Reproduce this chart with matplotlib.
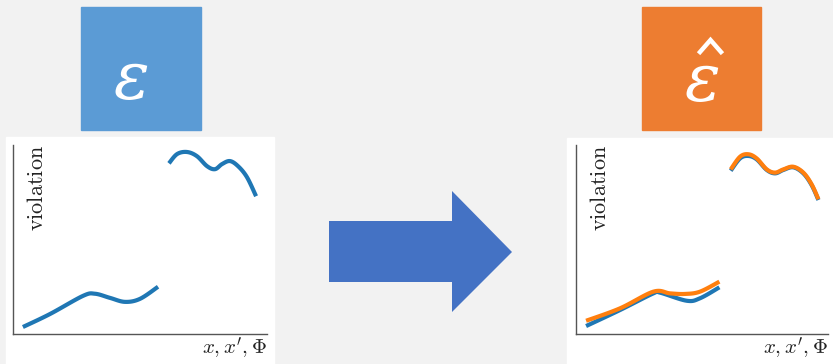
import matplotlib
matplotlib.use("Agg")
import matplotlib.pyplot as plt
import numpy as np
from matplotlib.patches import Rectangle, Polygon

plt.rcParams["mathtext.fontset"] = "cm"

W, H = 833, 364
BG = "#f2f2f2"
BLUE = "#1f77b4"
ORANGE = "#ff7f0e"

# curves, in axes fractions (x, y)
true_low_x = [0.039, 0.146, 0.276, 0.323, 0.382, 0.441, 0.500, 0.571]
true_low_y = [0.037, 0.106, 0.202, 0.213, 0.191, 0.170, 0.186, 0.250]
true_high_x = [0.614, 0.646, 0.685, 0.724, 0.764, 0.795, 0.823, 0.854, 0.886, 0.921, 0.957]
true_high_y = [0.903, 0.952, 0.963, 0.941, 0.888, 0.872, 0.899, 0.915, 0.888, 0.830, 0.729]

r_low_x = [0.040, 0.175, 0.307, 0.333, 0.439, 0.492, 0.569]
r_low_y = [0.042, 0.127, 0.215, 0.219, 0.176, 0.189, 0.247]
r_high_x = [0.614, 0.651, 0.684, 0.717, 0.757, 0.790, 0.823, 0.862, 0.902, 0.935, 0.962]
r_high_y = [0.864, 0.929, 0.942, 0.924, 0.868, 0.850, 0.868, 0.882, 0.850, 0.788, 0.709]

est_low_x = [0.040, 0.175, 0.307, 0.373, 0.433, 0.492, 0.569]
est_low_y = [0.070, 0.136, 0.224, 0.215, 0.212, 0.224, 0.277]
est_high_x = [0.614, 0.651, 0.684, 0.717, 0.757, 0.790, 0.823, 0.862, 0.902, 0.935, 0.962]
est_high_y = [0.871, 0.938, 0.951, 0.929, 0.871, 0.854, 0.871, 0.885, 0.854, 0.792, 0.713]


def smooth(xs, ys, n=12):
    # catmull-rom through the given points, just for a rounder stroke
    p = np.column_stack([xs, ys])
    p = np.vstack([p[0], p, p[-1]])
    out = []
    for i in range(1, len(p) - 2):
        p0, p1, p2, p3 = p[i - 1], p[i], p[i + 1], p[i + 2]
        for t in np.linspace(0, 1, n, endpoint=False):
            t2, t3 = t * t, t * t * t
            out.append(0.5 * ((2 * p1) + (-p0 + p2) * t
                              + (2 * p0 - 5 * p1 + 4 * p2 - p3) * t2
                              + (-p0 + 3 * p1 - 3 * p2 + p3) * t3))
    out.append(p[-2])
    out = np.array(out)
    return out[:, 0], out[:, 1]


fig = plt.figure(figsize=(W / 100, H / 100), dpi=100)
fig.patch.set_facecolor(BG)

# background layer in pixel coordinates
bg = fig.add_axes([0, 0, 1, 1])
bg.set_xlim(0, W)
bg.set_ylim(H, 0)
bg.axis("off")

bg.add_patch(Rectangle((6, 137), 268, 230, color="white"))
bg.add_patch(Rectangle((567, 138), 270, 230, color="white"))
bg.add_patch(Rectangle((81, 7), 120, 123, color="#5b9bd5"))
bg.add_patch(Rectangle((642, 7), 119, 123, color="#ed7d31"))

bg.text(131, 80, "ε", color="white", fontsize=48, family="DejaVu Serif",
        style="italic", ha="center", va="center")
bg.text(702, 82, "ε", color="white", fontsize=48, family="DejaVu Serif",
        style="italic", ha="center", va="center")
# hat accent over the estimate symbol
bg.plot([700, 710.5, 721], [52, 40, 52], color="white", lw=3.2,
        solid_joinstyle="miter")

arrow = [(329, 221), (452, 221), (452, 191), (512, 252),
         (452, 312), (452, 282), (329, 282)]
bg.add_patch(Polygon(arrow, closed=True, color="#4472c4", lw=0))


def panel(rect):
    ax = fig.add_axes(rect)
    ax.set_xlim(0, 1)
    ax.set_ylim(0, 1)
    ax.set_facecolor("none")
    for s in ["top", "right"]:
        ax.spines[s].set_visible(False)
    for s in ["left", "bottom"]:
        ax.spines[s].set_color("#555555")
        ax.spines[s].set_linewidth(1.0)
    ax.set_xticks([])
    ax.set_yticks([])
    ax.text(0.055, 1.0, r"$\mathrm{violation}$", rotation=90, fontsize=16,
            ha="left", va="top", transform=ax.transAxes, color="#222222")
    ax.text(1.0, -0.11, r"$x, x^{\prime}, \Phi$", fontsize=15,
            ha="right", va="baseline", transform=ax.transAxes, color="#222222")
    return ax


def frac(x0, y0, x1, y1):
    return [x0 / W, 1 - y1 / H, (x1 - x0) / W, (y1 - y0) / H]


left = panel(frac(13, 145, 267, 334))
left.plot(*smooth(true_low_x, true_low_y), color=BLUE, lw=3, solid_capstyle="butt")
left.plot(*smooth(true_high_x, true_high_y), color=BLUE, lw=3, solid_capstyle="butt")

right = panel(frac(576, 145, 828, 334))
right.plot(*smooth(r_low_x, r_low_y), color=BLUE, lw=3, solid_capstyle="butt")
right.plot(*smooth(r_high_x, r_high_y), color=BLUE, lw=3, solid_capstyle="butt")
right.plot(*smooth(est_low_x, est_low_y), color=ORANGE, lw=3, solid_capstyle="butt")
right.plot(*smooth(est_high_x, est_high_y), color=ORANGE, lw=3, solid_capstyle="butt")

fig.savefig("out.png", dpi=100, facecolor=BG)
